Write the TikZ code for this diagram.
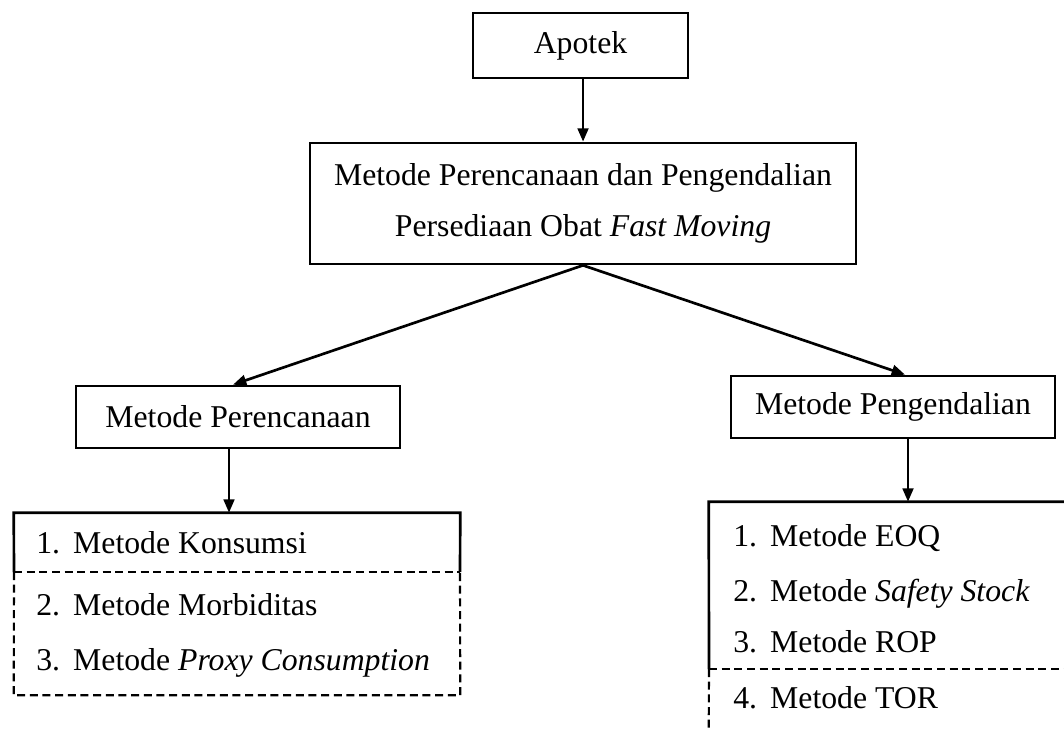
\documentclass[tikz,border=0pt]{standalone}
\usepackage{fontspec}
\setmainfont{Liberation Serif}
\usetikzlibrary{arrows.meta}

\newcommand{\itm}[1]{\makebox[27.75pt][l]{#1}}

\begin{document}
\begin{tikzpicture}[x=0.75pt, y=-0.75pt,
    every node/.style={font=\fontsize{23.8}{38.25}\selectfont},
    box/.style={draw, line width=2pt, inner sep=0pt},
    arr/.style={line width=2pt, -{Triangle[length=10pt,width=8pt]}},
    solidline/.style={line width=2pt},
    dashline/.style={line width=1.6pt, dash pattern=on 6pt off 3.5pt},
    item/.style={anchor=base west, inner sep=0pt}]
    \useasboundingbox (0,0) rectangle (1064,731);
    \node[box, minimum width=161.25pt, minimum height=48.75pt] (apotek) at (580.5,45.5) {Apotek};
    \node[box, align=center, minimum width=409.5pt, minimum height=90.75pt] (metode) at (583,203.5)
        {Metode Perencanaan dan Pengendalian\\Persediaan Obat \textit{Fast Moving}};
    \node[box, minimum width=243pt, minimum height=46.5pt] (plan) at (238,417) {Metode Perencanaan};
    \node[box, minimum width=243pt, minimum height=46.5pt] (ctrl) at (893,407) {Metode Pengendalian};
    \node[inner sep=0pt, minimum width=334.5pt, minimum height=136.5pt] (planlist) at (237,604) {};
    \node[inner sep=0pt, minimum width=266.25pt, minimum height=171.75pt] (ctrllist) at (886.5,616.5) {};
    % list boxes
    \coordinate (plansplitw) at (14,572);
    \coordinate (plansplite) at (460,572);
    \coordinate (ctrlsplitw) at (709,669);
    \coordinate (ctrlsplite) at (1064,669);
    \draw[solidline] (plansplitw) -- (planlist.north west) -- (planlist.north east) -- (plansplite);
    \draw[dashline] (plansplitw) -- (plansplite);
    \draw[dashline] (plansplitw) -- (planlist.south west) -- (planlist.south east) -- (plansplite);
    \draw[solidline] (ctrlsplitw) -- (ctrllist.north west) -- (ctrllist.north east);
    \draw[dashline] (ctrlsplitw) -- (ctrlsplite);
    \draw[dashline] (ctrlsplitw) -- (ctrllist.south west);
    % items
    \node[item] (k1) at (36,553) {\itm{1.}Metode Konsumsi};
    \node[item] (k2) at (36,615) {\itm{2.}Metode Morbiditas};
    \node[item] (k3) at (36,670) {\itm{3.}Metode \textit{Proxy Consumption}};
    \node[item] (p1) at (733,546) {\itm{1.}Metode EOQ};
    \node[item] (p2) at (733,601) {\itm{2.}Metode \textit{Safety Stock}};
    \node[item] (p3) at (733,652) {\itm{3.}Metode ROP};
    \node[item] (p4) at (733,708) {\itm{4.}Metode TOR};
    % arrows
    \draw[arr] ([xshift=1.9pt]apotek.south) -- ([xshift=1.9pt]apotek.south |- metode.north);
    \draw[arr] (metode.south) -- ([xshift=-3.75pt]plan.north);
    \draw[arr] (metode.south) -- ([xshift=9pt]ctrl.north);
    \draw[arr] ([xshift=-6.75pt]plan.south) -- ([xshift=-6.75pt]plan.south |- planlist.north);
    \draw[arr] ([xshift=11.25pt]ctrl.south) -- ([xshift=11.25pt]ctrl.south |- ctrllist.north);
\end{tikzpicture}
\end{document}
